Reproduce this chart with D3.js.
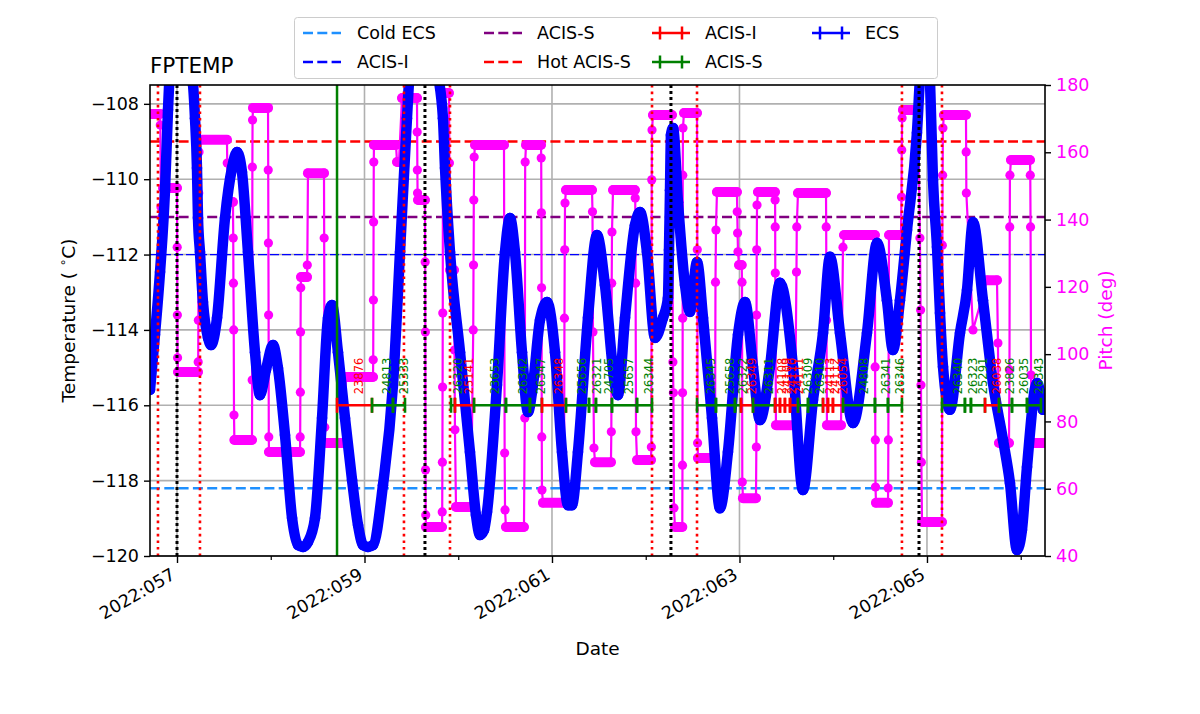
<!DOCTYPE html>
<html><head><meta charset="utf-8">
<script src="https://cdn.jsdelivr.net/npm/d3@7"></script>
<style>body{margin:0;background:#fff;} text{font-family:"DejaVu Sans",sans-serif;}</style>
</head><body><svg id="c" width="1200" height="714"></svg>
<script>
// ---------- data ----------
const xDomain = [56.712, 66.259];
const tempDomain = [-120, -107.5];
const pitchDomain = [40, 180];
const xTickDays = [57, 59, 61, 63, 65];
const xTickLabels = ["2022:057", "2022:059", "2022:061", "2022:063", "2022:065"];
const xMinorDays = [58, 60, 62, 64, 66];
const tempTicks = [-120, -118, -116, -114, -112, -110, -108];
const pitchTicks = [40, 60, 80, 100, 120, 140, 160, 180];

const limitNames = ["Cold ECS", "ACIS-I", "ACIS-S", "Hot ACIS-S"];
const limitValues = [-118.2, -112, -111, -109];
const limitColors = ["#1e90ff", "blue", "purple", "red"];

const radZoneDays = [56.797, 57.245, 59.421, 59.912, 62.067, 62.547, 64.733, 65.160];
const perigeeDays = [57.0, 59.645, 62.269, 64.915];
const nowDay = 58.707;

const tempDays = [56.712,56.765,56.819,56.872,56.904,56.936,56.989,57.075,57.171,57.192,
57.213,57.224,57.245,57.277,57.331,57.363,57.427,57.512,57.587,57.640,
57.693,57.757,57.832,57.885,57.949,58.024,58.077,58.152,58.227,58.291,
58.344,58.397,58.472,58.547,58.611,58.653,58.717,58.792,58.867,58.931,
58.984,59.037,59.091,59.197,59.304,59.379,59.453,59.485,59.624,59.773,
59.837,59.859,59.912,60.019,60.125,60.189,60.232,60.275,60.307,60.413,
60.499,60.552,60.605,60.680,60.744,60.797,60.872,60.947,61.032,61.107,
61.171,61.213,61.277,61.384,61.480,61.565,61.672,61.704,61.779,61.885,
61.939,62.013,62.099,62.184,62.237,62.248,62.259,62.269,62.291,62.344,
62.419,62.472,62.547,62.611,62.707,62.792,62.877,62.984,63.059,63.144,
63.219,63.325,63.432,63.571,63.677,63.784,63.891,63.965,64.072,64.211,
64.360,64.467,64.573,64.637,64.712,64.787,64.893,64.936,64.979,65.032,
65.064,65.107,65.139,65.171,65.245,65.352,65.427,65.491,65.597,65.704,
65.811,65.885,65.960,66.013,66.067,66.173,66.237];
const tempValues = [-115.59,-114.13,-112.46,-110.29,-108.16,-106.57,-105.64,-106.31,-107.50,-108.38,
-109.70,-111.03,-111.93,-113.26,-114.21,-114.40,-113.68,-111.03,-109.70,-109.28,
-109.81,-111.93,-114.59,-115.73,-115.06,-114.40,-115.01,-116.79,-118.99,-119.71,
-119.76,-119.63,-118.99,-116.34,-113.68,-113.34,-114.59,-116.34,-117.98,-119.18,
-119.71,-119.76,-119.71,-118.12,-115.46,-111.93,-108.38,-107.10,-105.77,-107.10,
-108.38,-109.70,-111.93,-114.59,-117.24,-118.91,-119.44,-119.31,-118.83,-115.46,
-111.93,-111.03,-111.93,-114.59,-116.18,-115.46,-113.74,-113.26,-114.59,-117.24,
-118.65,-118.65,-117.24,-113.68,-111.48,-112.81,-115.46,-115.73,-113.68,-111.22,
-110.87,-111.93,-114.21,-113.68,-113.15,-111.88,-110.29,-108.83,-108.64,-110.61,
-112.81,-113.52,-112.20,-113.68,-116.34,-118.73,-117.24,-114.13,-113.26,-114.98,
-116.39,-114.98,-112.75,-114.98,-118.25,-115.86,-114.08,-112.06,-114.08,-116.47,
-114.08,-111.69,-113.21,-114.53,-113.21,-111.35,-108.77,-106.84,-105.64,-107.37,
-110.02,-111.80,-113.55,-114.98,-116.12,-114.08,-112.94,-111.14,-113.21,-115.41,
-116.92,-118.06,-119.84,-119.31,-117.64,-115.41,-116.12];

// pitch samples: [day, pitch]
const pitchSeries = [
[56.712,171.4],[56.819,171.4],[56.822,168.1],[56.829,143.7],[56.840,140.8],
[56.851,149.4],[57.000,149.4],[57.002,131.8],[57.004,111.6],[57.006,98.9],
[57.011,94.7],[57.224,94.7],[57.226,97.7],[57.228,110.1],[57.232,147.9],[57.235,160.1],
[57.245,163.7],[57.533,163.7],[57.536,156.8],[57.544,145.2],[57.597,145.2],
[57.600,134.5],[57.602,121.1],[57.605,107.2],[57.608,81.9],
[57.612,74.5],[57.800,74.5],[57.802,92.3],[57.804,155.6],[57.806,169.6],
[57.811,173.2],[57.971,173.2],[57.973,154.7],[57.975,133.0],[57.977,111.6],[57.979,75.4],
[57.981,70.9],[58.312,70.9],[58.314,75.4],[58.316,88.7],[58.318,106.6],[58.320,119.7],
[58.323,122.9],[58.387,122.9],[58.390,126.5],
[58.397,153.8],[58.568,153.8],[58.570,134.5],[58.573,92.3],[58.576,78.3],
[58.579,73.6],[58.771,73.6],
[58.803,93.2],[59.091,93.2],[59.093,98.3],[59.095,116.1],[59.097,139.3],[59.099,157.1],
[59.101,162.2],[59.336,162.2],[59.347,157.1],[59.368,157.1],
[59.400,176.1],[59.560,176.1],[59.562,166.0],[59.564,154.7],[59.566,147.9],
[59.571,145.8],[59.645,145.8],[59.647,127.4],[59.649,106.6],[59.651,65.6],[59.653,52.2],
[59.656,48.6],[59.827,48.6],[59.829,53.1],[59.831,67.9],[59.833,90.2],[59.835,112.2],[59.837,173.2],
[59.848,177.6],[59.901,177.6],[59.906,156.8],
[59.912,125.0],[59.955,125.0],[59.960,101.2],[59.965,77.5],
[59.976,54.6],[60.136,54.6],[60.160,107.2],[60.163,126.5],[60.166,145.8],[60.170,158.6],
[60.179,162.2],[60.488,162.2],[60.495,70.6],[60.499,53.7],
[60.509,48.6],[60.701,48.6],[60.710,81.0],[60.714,157.1],
[60.723,162.2],[60.883,162.2],[60.885,158.3],[60.887,142.0],[60.889,119.7],[60.891,75.4],[60.893,59.6],
[60.904,55.8],[61.128,55.8],[61.133,110.7],[61.136,131.0],[61.139,144.9],
[61.149,148.8],[61.427,148.8],[61.432,142.3],[61.437,106.6],[61.448,72.1],
[61.459,67.9],[61.629,67.9],[61.633,76.9],[61.637,121.1],[61.640,136.3],
[61.651,148.8],[61.885,148.8],[61.888,146.4],[61.892,121.1],[61.896,76.9],
[61.907,68.5],[62.056,68.5],[62.060,72.4],[62.064,151.8],[62.067,166.6],
[62.077,171.1],[62.280,171.1],[62.290,97.7],[62.295,88.5],[62.301,54.3],
[62.312,48.6],[62.390,48.6],[62.392,67.0],[62.393,88.5],[62.394,110.7],[62.395,153.2],[62.397,167.2],
[62.408,171.7],[62.547,171.7],[62.550,131.0],[62.553,73.6],
[62.557,69.1],[62.739,69.1],[62.744,121.4],[62.749,136.9],
[62.760,148.2],[62.973,148.2],[62.976,142.3],[62.980,136.0],[62.984,130.4],
[62.995,126.5],[63.024,126.5],[63.027,121.4],[63.030,62.0],
[63.037,57.2],[63.176,57.2],[63.180,72.4],[63.182,111.6],[63.184,131.0],[63.187,144.3],
[63.197,148.2],[63.379,148.2],[63.380,145.8],[63.381,137.8],[63.382,124.1],[63.384,110.1],
[63.389,78.9],[63.592,78.9],[63.608,124.4],[63.611,137.8],
[63.624,147.9],[63.923,147.9],[63.925,137.8],[63.928,110.1],
[63.933,78.9],[64.083,78.9],[64.104,131.8],
[64.115,135.4],[64.445,135.4],[64.447,96.2],[64.449,74.5],[64.451,60.5],
[64.456,55.8],[64.584,55.8],[64.586,60.2],[64.588,74.5],
[64.595,135.4],[64.723,135.4],[64.728,146.7],[64.731,160.7],[64.735,170.2],
[64.744,172.6],[64.904,172.6],[64.925,134.5],[64.932,113.1],[64.936,90.8],[64.940,67.9],
[64.947,50.1],[65.160,50.1],[65.164,132.4],[65.167,153.2],[65.170,167.2],
[65.181,171.1],[65.416,171.1],[65.418,160.1],[65.420,147.9],[65.491,107.2],
[65.640,122.0],[65.747,122.0],[65.757,103.3],
[65.768,73.6],[65.875,73.6],[65.880,95.3],[65.883,137.8],[65.885,153.2],
[65.896,157.7],[66.099,157.7],[66.102,153.2],[66.105,137.8],[66.110,93.8],
[66.120,73.6],[66.259,73.6]
];

const obsIds = ["23876","24813","25333","26320","25141","23653","26342","26347","26348","25656",
"26321","24705","25657","26344","26345","25658","26322","26349","26311","24108",
"24109","24110","24111","26309","26310","24113","24112","26054","24808","26341",
"26346","26340","26323","25291","26038","23826","26035","26343"];
const obsStart = [58.707,59.080,59.304,59.923,59.965,60.168,60.509,60.765,60.893,61.149,
61.395,61.469,61.640,61.907,62.547,62.749,62.952,63.016,63.144,63.379,
63.432,63.485,63.539,63.624,63.731,63.891,63.944,63.997,64.104,64.445,
64.584,65.160,65.405,65.469,65.619,65.768,65.907,66.067];
const obsStop = [59.080,59.304,59.432,59.965,60.168,60.509,60.765,60.893,61.149,61.395,
61.469,61.640,61.907,62.067,62.749,62.952,63.016,63.144,63.379,63.432,
63.485,63.539,63.624,63.731,63.891,63.944,63.997,64.104,64.445,64.584,
64.733,65.405,65.469,65.619,65.768,65.907,66.067,66.216];
const obsInstr = ["I","S","S","S","I","S","S","S","I","S",
"S","S","S","S","S","S","S","I","S","I",
"I","I","I","S","S","I","I","I","S","S",
"S","S","S","S","I","S","S","S"];
const obsLevel = -116;

// ---------- layout ----------
const L = 150, R = 1045, T = 85, B = 556;
const FS = 17.5;
const svg = d3.select("#c");
const x = d3.scaleLinear().domain(xDomain).range([L, R]);
const yT = d3.scaleLinear().domain(tempDomain).range([B, T]);
const yP = d3.scaleLinear().domain(pitchDomain).range([B, T]);
const instrColor = {I: "red", S: "green"};

svg.append("defs").append("clipPath").attr("id", "pc")
  .append("rect").attr("x", L).attr("y", T).attr("width", R - L).attr("height", B - T);

// grid
const grid = svg.append("g").attr("stroke", "#b0b0b0").attr("stroke-width", 1.6);
grid.selectAll(".gx").data(xTickDays).join("line")
  .attr("x1", d => x(d)).attr("x2", d => x(d)).attr("y1", T).attr("y2", B);
grid.selectAll(".gy").data(tempTicks).join("line")
  .attr("x1", L).attr("x2", R).attr("y1", d => yT(d)).attr("y2", d => yT(d));

const plot = svg.append("g").attr("clip-path", "url(#pc)");

// limit lines
limitValues.forEach((v, i) => {
  const thin = limitNames[i] === "ACIS-I";
  plot.append("line").attr("x1", L).attr("x2", R).attr("y1", yT(v)).attr("y2", yT(v))
    .attr("stroke", limitColors[i]).attr("stroke-width", thin ? 1.2 : 2.5)
    .attr("stroke-dasharray", thin ? "9,3" : "10,4.3");
});

// pitch
const pts = pitchSeries.map(d => [x(d[0]), yP(d[1])]);
plot.append("path").attr("d", d3.line()(pts)).attr("fill", "none")
  .attr("stroke", "#ff00ff").attr("stroke-width", 2.2);
for (let i = 0; i < pitchSeries.length - 1; i++) {
  if (pitchSeries[i][1] === pitchSeries[i + 1][1]) {
    plot.append("line").attr("x1", pts[i][0]).attr("y1", pts[i][1])
      .attr("x2", pts[i + 1][0]).attr("y2", pts[i + 1][1])
      .attr("stroke", "#ff00ff").attr("stroke-width", 10).attr("stroke-linecap", "round");
  }
}
plot.selectAll(".pp").data(pts).join("circle")
  .attr("cx", d => d[0]).attr("cy", d => d[1]).attr("r", 4.6).attr("fill", "#ff00ff");

// temperature
const tdata = tempDays.map((d, i) => [d, tempValues[i]]);
const tline = d3.line().x(d => x(d[0])).y(d => yT(d[1])).curve(d3.curveMonotoneX);
plot.append("path").attr("d", tline(tdata)).attr("fill", "none")
  .attr("stroke", "blue").attr("stroke-width", 10.5)
  .attr("stroke-linejoin", "round").attr("stroke-linecap", "round");
plot.selectAll(".tp").data(tdata).join("circle")
  .attr("cx", d => x(d[0])).attr("cy", d => yT(d[1])).attr("r", 5.3).attr("fill", "blue");

// vertical markers
radZoneDays.forEach(d => plot.append("line").attr("x1", x(d)).attr("x2", x(d)).attr("y1", T).attr("y2", B)
  .attr("stroke", "red").attr("stroke-width", 2.6).attr("stroke-dasharray", "2.6,4"));
perigeeDays.forEach(d => plot.append("line").attr("x1", x(d)).attr("x2", x(d)).attr("y1", T).attr("y2", B)
  .attr("stroke", "black").attr("stroke-width", 3).attr("stroke-dasharray", "3,3"));
plot.append("line").attr("x1", x(nowDay)).attr("x2", x(nowDay)).attr("y1", T).attr("y2", B)
  .attr("stroke", "green").attr("stroke-width", 2.5);

// observations
const yo = yT(obsLevel);
obsIds.forEach((id, i) => {
  const c = instrColor[obsInstr[i]];
  const x0 = x(obsStart[i]), x1 = x(obsStop[i]);
  plot.append("line").attr("x1", x0).attr("x2", x1).attr("y1", yo).attr("y2", yo)
    .attr("stroke", c).attr("stroke-width", 2.6);
  [x0, x1].forEach(xx => plot.append("line").attr("x1", xx).attr("x2", xx)
    .attr("y1", yo - 7.5).attr("y2", yo + 7.5).attr("stroke", c).attr("stroke-width", 2.6));
});
obsIds.forEach((id, i) => {
  const c = instrColor[obsInstr[i]];
  const xm = x((obsStart[i] + obsStop[i]) / 2);
  plot.append("text").attr("transform", `translate(${xm},${yo - 11}) rotate(-90)`)
    .attr("dy", "0.76em").attr("font-size", 11.5).attr("fill", c).text(id);
});

// frame
svg.append("rect").attr("x", L).attr("y", T).attr("width", R - L).attr("height", B - T)
  .attr("fill", "none").attr("stroke", "black").attr("stroke-width", 1.6);

// axes
const fmtMinus = d => d < 0 ? "\u2212" + Math.abs(d) : String(d);
const ax = svg.append("g").attr("transform", `translate(0,${B})`)
  .call(d3.axisBottom(x).tickValues(xTickDays).tickFormat((d, i) => xTickLabels[i]).tickSize(7).tickPadding(4));
ax.select(".domain").remove();
ax.selectAll(".tick line").attr("stroke-width", 1.4);
ax.selectAll(".tick text").attr("font-size", FS).attr("fill", "black")
  .attr("text-anchor", "end").attr("dy", null).attr("y", null)
  .attr("transform", "translate(-1,22) rotate(-30)");
const axm = svg.append("g").attr("transform", `translate(0,${B})`)
  .call(d3.axisBottom(x).tickValues(xMinorDays).tickFormat("").tickSize(4));
axm.select(".domain").remove();
axm.selectAll(".tick line").attr("stroke-width", 1.2);

const ay = svg.append("g").attr("transform", `translate(${L},0)`)
  .call(d3.axisLeft(yT).tickValues(tempTicks).tickFormat(fmtMinus).tickSize(6).tickPadding(5));
ay.select(".domain").remove();
ay.selectAll(".tick line").attr("stroke-width", 1.4);
ay.selectAll(".tick text").attr("font-size", FS).attr("fill", "black");

const ar = svg.append("g").attr("transform", `translate(${R},0)`)
  .call(d3.axisRight(yP).tickValues(pitchTicks).tickSize(6).tickPadding(5));
ar.select(".domain").remove();
ar.selectAll(".tick line").attr("stroke-width", 1.4);
ar.selectAll(".tick text").attr("font-size", FS).attr("fill", "#ff00ff");

// labels
svg.append("text").attr("x", L).attr("y", 73).attr("font-size", 21.5).text("FPTEMP");
svg.append("text").attr("x", (L + R) / 2).attr("y", 655).attr("text-anchor", "middle")
  .attr("font-size", 18.5).text("Date");
const yl = svg.append("text").attr("transform", `translate(75,${(T + B) / 2}) rotate(-90)`)
  .attr("text-anchor", "middle").attr("font-size", 18.5);
yl.append("tspan").text("Temperature ( ");
yl.append("tspan").attr("font-size", 12).attr("dy", -8).text("\u2218");
yl.append("tspan").attr("dy", 8).text("C)");
svg.append("text").attr("transform", `translate(1112,${(T + B) / 2}) rotate(-90)`)
  .attr("text-anchor", "middle").attr("font-size", 18.5).attr("fill", "#ff00ff").text("Pitch (deg)");

// legend
const lg = svg.append("g");
lg.append("rect").attr("x", 294.5).attr("y", 17.5).attr("width", 643).attr("height", 61).attr("rx", 3)
  .attr("fill", "white").attr("stroke", "#cccccc").attr("stroke-width", 1);
const legendItems = [
  {name: limitNames[0], color: limitColors[0], kind: "dash", col: 0, row: 0},
  {name: limitNames[1], color: limitColors[1], kind: "dash", col: 0, row: 1},
  {name: limitNames[2], color: limitColors[2], kind: "dash", col: 1, row: 0},
  {name: limitNames[3], color: limitColors[3], kind: "dash", col: 1, row: 1},
  {name: "ACIS-I", color: "red", kind: "err", col: 2, row: 0},
  {name: "ACIS-S", color: "green", kind: "err", col: 2, row: 1},
  {name: "ECS", color: "blue", kind: "err", col: 3, row: 0}
];
const colX = [303, 484, 652, 812];
const textX = [357, 537, 705, 865];
const rowY = [33, 62];
legendItems.forEach(it => {
  const x0 = colX[it.col], y0 = rowY[it.row];
  if (it.kind === "dash") {
    lg.append("line").attr("x1", x0).attr("x2", x0 + 38).attr("y1", y0).attr("y2", y0)
      .attr("stroke", it.color).attr("stroke-width", 2.5).attr("stroke-dasharray", "10,4.3");
  } else {
    lg.append("line").attr("x1", x0).attr("x2", x0 + 38).attr("y1", y0).attr("y2", y0)
      .attr("stroke", it.color).attr("stroke-width", 2.5);
    [x0 + 8, x0 + 30].forEach(xx => lg.append("line").attr("x1", xx).attr("x2", xx)
      .attr("y1", y0 - 6.5).attr("y2", y0 + 6.5).attr("stroke", it.color).attr("stroke-width", 2.5));
  }
  lg.append("text").attr("x", textX[it.col]).attr("y", y0 + 6).attr("font-size", FS).text(it.name);
});
</script></body></html>
